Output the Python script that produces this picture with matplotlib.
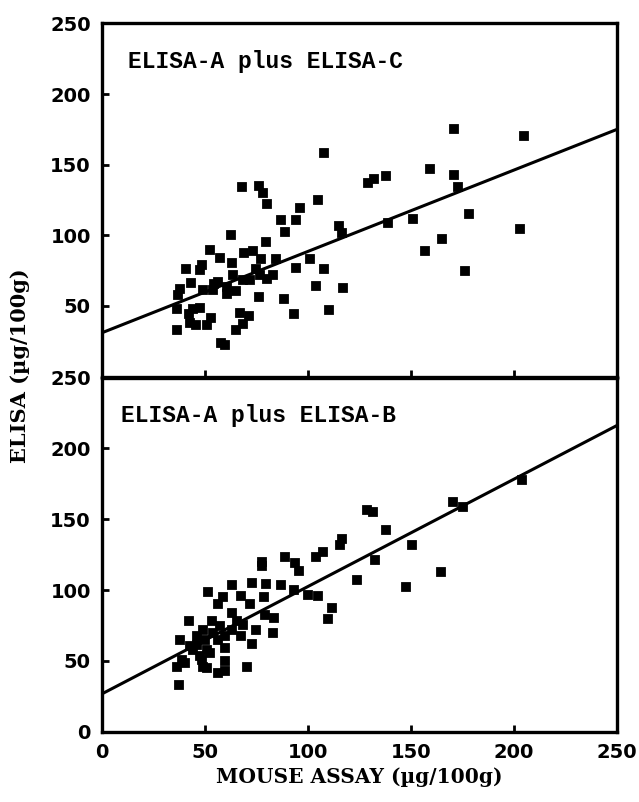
import matplotlib
matplotlib.use('Agg')
import matplotlib.pyplot as plt

# Panel 1: ELISA-A plus ELISA-C  (mouse assay vs ELISA, ug/100g)
top_x = [108, 68, 76, 78, 80, 105, 96, 94, 87, 89, 115, 116.5, 62.5, 79.5, 52.4,
         57.3, 63, 69, 73.5, 77, 84.5, 101, 108, 94, 41, 47.6, 48.4, 63.5, 74.6,
         76.6, 80, 83, 43, 38, 37, 49, 54.4, 56.5, 60.5, 65, 68.6, 72, 76.4, 88.3,
         104, 117, 93, 110, 36.2, 44.3, 47.6, 42, 42.7, 45.6, 36.2, 50.8, 52.8, 67,
         71.5, 68.6, 65, 57.6, 59.7, 54, 60.5,
         171, 205, 129, 132, 138, 159, 171, 173, 139, 151, 178, 203, 165, 157, 176]
top_y = [158.6, 134, 135, 129.6, 122, 125, 119, 111, 110.6, 102.4, 106.4, 101.6, 100.5,
         95.3, 89.8, 84, 80.4, 87.5, 89, 83, 83, 83.5, 76.4, 77, 76.4, 75.7, 78.7, 71.6,
         76.4, 71.6, 69.3, 71.6, 66, 62, 57.4, 61, 65.7, 67, 58.6, 60.5, 68, 68.6, 56.3,
         55, 63.8, 62.6, 44, 47.3, 48, 48, 48.7, 44.5, 37.8, 36.2, 32.6, 36.2, 41.6,
         45.2, 42.8, 37.4, 32.6, 23.6, 22.5, 61, 63.4,
         175.6, 170.4, 136.7, 140.2, 142, 146.8, 142.6, 134.3, 108.7, 111.3, 115.4,
         104.3, 97.6, 88.9, 74.7]
top_fit = (31.0, 0.576)  # intercept, slope

# Panel 2: ELISA-A plus ELISA-B
bot_x = [116.3, 115.5, 107.4, 104, 88.8, 93.7, 95.8, 77.8, 77.8, 72.7, 63, 79.6, 86.7,
         93.2, 100.2, 104.7, 51.6, 58.9, 67.5, 78.6, 56.5, 71.8, 63.3, 111.5, 109.6,
         79, 83.7, 42, 53.2, 65.4, 68.6, 75, 83.2, 67.5, 72.7, 38, 49.2, 46, 50, 42.7,
         56.5, 59.7, 59.7, 52.4, 47.6, 36.3, 40.4, 50.8, 56.5, 59.7, 59.7, 70.6, 37.5,
         44.3, 50.8, 48.4, 49.2, 46, 54, 57.5, 63, 38.7,
         204, 170.5, 175.4, 128.5, 131.4, 137.7, 150.3, 132.5, 123.6, 147.6, 164.6]
bot_y = [136.3, 131.6, 127, 123, 123, 119.3, 113.4, 119.8, 117, 105.2, 103.5, 104,
         103.5, 100, 96.4, 96, 98.5, 95, 95.7, 95.2, 89.8, 89.8, 84, 87.4, 79.6, 82.7,
         80.4, 78, 78, 78, 75.6, 72, 69.7, 67.8, 62.2, 65, 72, 67.3, 65, 60.2, 65, 67.3,
         59, 55.6, 53.2, 46, 48.5, 45, 41.4, 42.6, 49.6, 45.6, 33, 58, 58, 50.8, 46,
         61.4, 69.7, 74.4, 72, 50.8,
         177.7, 162.3, 158.3, 156.6, 154.8, 142.5, 131.6, 121, 106.8, 102, 113]
bot_fit = (26.7, 0.758)

panels = [('ELISA-A plus ELISA-C', top_x, top_y, top_fit, 12.6),
          ('ELISA-A plus ELISA-B', bot_x, bot_y, bot_fit, 9.2)]

fig = plt.figure(figsize=(6.39, 8.02), dpi=100)
ax_top = fig.add_axes([0.1596, 0.5305, 0.806, 0.4403])
ax_bot = fig.add_axes([0.1596, 0.0877, 0.806, 0.4415])

tick_font = dict(family='DejaVu Sans', weight='heavy', size=14)

for ax, (label, xs, ys, fit, tx) in zip([ax_top, ax_bot], panels):
    ax.plot(xs, ys, linestyle='none', marker='s', ms=6.2, color='black',
            mec='black', mew=1.3, zorder=3)
    b, m = fit
    ax.plot([0, 250], [b, b + m * 250], color='black', lw=2.2, zorder=2,
            solid_capstyle='butt')
    ax.text(tx, 223, label, family='Liberation Mono', weight='bold', fontsize=16.5,
            va='center', ha='left')
    ax.set_xlim(0, 250)
    ax.set_ylim(0, 250)
    for s in ax.spines.values():
        s.set_linewidth(2.4)
    ax.tick_params(direction='in', length=5, width=2, pad=8)
    ax.set_xticks([0, 50, 100, 150, 200, 250])

ax_top.set_yticks([50, 100, 150, 200, 250])
ax_top.set_xticklabels([])
ax_bot.set_yticks([0, 50, 100, 150, 200, 250])
for ax in [ax_top, ax_bot]:
    for lab in ax.get_yticklabels() + ax.get_xticklabels():
        lab.set_fontproperties(matplotlib.font_manager.FontProperties(**tick_font))

ax_bot.set_xlabel('MOUSE ASSAY (\u00b5g/100g)', family='DejaVu Serif',
                  weight='heavy', fontsize=14.5, labelpad=4)
fig.text(0.032, 0.544, 'ELISA (\u00b5g/100g)', rotation=90, family='DejaVu Serif',
         weight='heavy', fontsize=15, ha='center', va='center')

fig.savefig('out.png', dpi=100)
